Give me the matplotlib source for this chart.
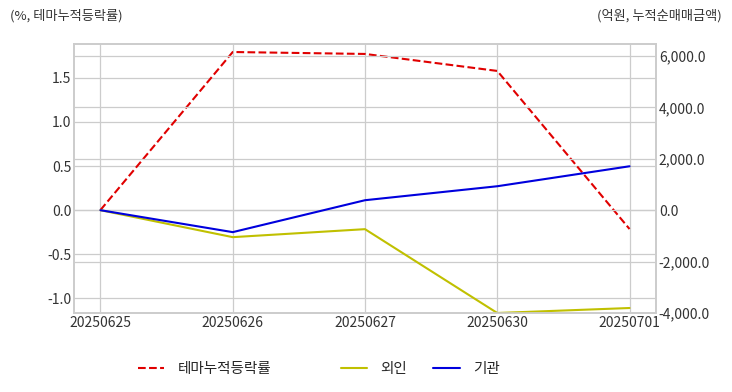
import matplotlib
matplotlib.use("Agg")
import matplotlib.pyplot as plt
import matplotlib.ticker as mticker

plt.style.use("seaborn-v0_8-whitegrid")
plt.rcParams['font.family'] = ['Noto Sans CJK KR', 'DejaVu Sans']
plt.rcParams['axes.unicode_minus'] = False

dates = ["20250625", "20250626", "20250627", "20250630", "20250701"]
theme_rate = [0.0, 1.795, 1.773, 1.58, -0.216]      # %, left axis
foreign = [0.0, -1049, -738, -4000, -3806]          # 억원, right axis
institution = [0.0, -854, 388, 932, 1709]           # 억원, right axis

fig = plt.figure(figsize=(7.32, 3.92), dpi=100)
ax = fig.add_axes([74 / 732, 1 - 313 / 392, (656 - 74) / 732, (313 - 44) / 392])
ax2 = ax.twinx()

x = list(range(len(dates)))
l1, = ax.plot(x, theme_rate, color="#e00000", linestyle="--", linewidth=1.5, label="테마누적등락률")
l2, = ax2.plot(x, foreign, color="#c0c000", linewidth=1.5, label="외인")
l3, = ax2.plot(x, institution, color="#0000dd", linewidth=1.5, label="기관")

ax.set_xlim(-0.2, 4.2)
ax.set_ylim(-1.17, 1.886)
ax2.set_ylim(-4000, 6466)
ax.set_xticks(x)
ax.set_xticklabels(dates)
ax.set_yticks([-1.0, -0.5, 0.0, 0.5, 1.0, 1.5])
ax2.set_yticks([-4000, -2000, 0, 2000, 4000, 6000])
ax2.yaxis.set_major_formatter(mticker.FuncFormatter(lambda v, p: f"{v:,.1f}"))

for a in (ax, ax2):
    a.tick_params(labelsize=10, colors="#333333", pad=2)
    a.grid(True, color="#cccccc", linewidth=0.9)
    for s in a.spines.values():
        s.set_visible(True)
        s.set_color("#cccccc")
        s.set_linewidth(1.2)
ax2.grid(True, axis="y")
ax2.grid(False, axis="x")

fig.text(10 / 732, 1 - 16 / 392, "(%, 테마누적등락률)", fontsize=9.5, color="#333333", va="center", ha="left")
fig.text(722 / 732, 1 - 16 / 392, "(억원, 누적순매매금액)", fontsize=9.5, color="#333333", va="center", ha="right")

leg1 = fig.legend(handles=[l1], loc="center left", bbox_to_anchor=(138 / 732, 1 - 369 / 392),
                  frameon=False, fontsize=10.5, handlelength=1.8, handletextpad=0.9, borderpad=0,
                  borderaxespad=0)
leg2 = fig.legend(handles=[l2, l3], loc="center left", bbox_to_anchor=(341 / 732, 1 - 369 / 392),
                  ncol=2, frameon=False, fontsize=10.5, handlelength=1.8, handletextpad=0.9, borderpad=0,
                  borderaxespad=0, columnspacing=1.8)

fig.savefig("out.png", dpi=100)
